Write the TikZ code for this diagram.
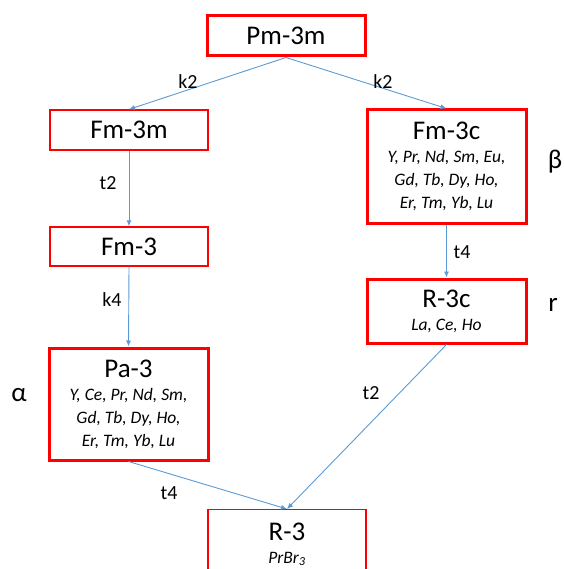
\documentclass[tikz,border=0pt]{standalone}
\usepackage{fontspec}
\setmainfont{Carlito}
\usetikzlibrary{arrows.meta}
\definecolor{boxred}{RGB}{255,0,0}
\definecolor{arrblue}{RGB}{91,155,213}
\newcommand{\grpTitle}{\fontsize{27}{23}\selectfont}
\newcommand{\grpList}{\fontsize{17.5}{23}\selectfont\itshape}
\begin{document}
\begin{tikzpicture}[x=1pt,y=-1pt,
  grp/.style={draw=boxred, line width=1.3pt, minimum width=158pt, inner sep=0pt, align=center, font=\grpTitle},
  grpthick/.style={grp, line width=3pt},
  arr/.style={draw=arrblue, line width=0.9pt, -{Latex[length=6pt,width=5pt]}},
  lbl/.style={font=\fontsize{20}{24}\selectfont, inner sep=0pt},
  side/.style={font=\fontsize{27}{30}\selectfont, inner sep=0pt}]
\useasboundingbox (0,0) rectangle (563,569);
\clip (0,0) rectangle (563,569);

\node[grpthick, minimum height=40pt] (pm) at (286,36) {Pm-3m};
\node[grp, minimum height=40pt] (fm3m) at (129,130) {Fm-3m};
\node[grp, minimum height=39pt] (fm3) at (129,246.5) {Fm-3};
\node[grpthick, minimum width=159pt, minimum height=112pt] (pa3) at (128.5,404)
  {Pa-3\\{\grpList Y, Ce, Pr, Nd, Sm,}\\{\grpList Gd, Tb, Dy, Ho,}\\{\grpList Er, Tm, Yb, Lu}};
\node[grpthick, minimum width=159pt, minimum height=113pt] (fm3c) at (446.5,166.5)
  {Fm-3c\\{\grpList Y, Pr, Nd, Sm, Eu,}\\{\grpList Gd, Tb, Dy, Ho,}\\{\grpList Er, Tm, Yb, Lu}};
\node[grpthick, minimum width=159pt, minimum height=64pt] (r3c) at (446.5,311)
  {R-3c\\{\grpList La, Ce, Ho}};
\node[grp, minimum height=69pt, anchor=north] (r3) at (287,509)
  {R-3\\{\grpList PrBr\textsubscript{3}}};

\draw[arr] (pm.south) -- (fm3m.north);
\draw[arr] (pm.south) -- (fm3c.north);
\draw[arr] (fm3m.south) -- (fm3.north);
\draw[arr] (fm3.south) -- (pa3.north);
\draw[arr] (fm3c.south) -- (r3c.north);
\draw[arr] (pa3.south) -- (r3.north);
\draw[arr] (r3c.south) -- (r3.north);

\node[lbl] (lk2a) at (188,82) {k2};
\node[lbl] (lk2b) at (383,82) {k2};
\node[lbl] (lt2a) at (108,183) {t2};
\node[lbl] (lk4) at (112,299.5) {k4};
\node[lbl] (lt4a) at (462,252) {t4};
\node[lbl] (lt4b) at (169,493) {t4};
\node[lbl] (lt2b) at (371,393) {t2};

\node[side] (beta) at (555,162) {β};
\node[side] (rr) at (553,305) {r};
\node[side] (alpha) at (19,395) {α};
\end{tikzpicture}
\end{document}
